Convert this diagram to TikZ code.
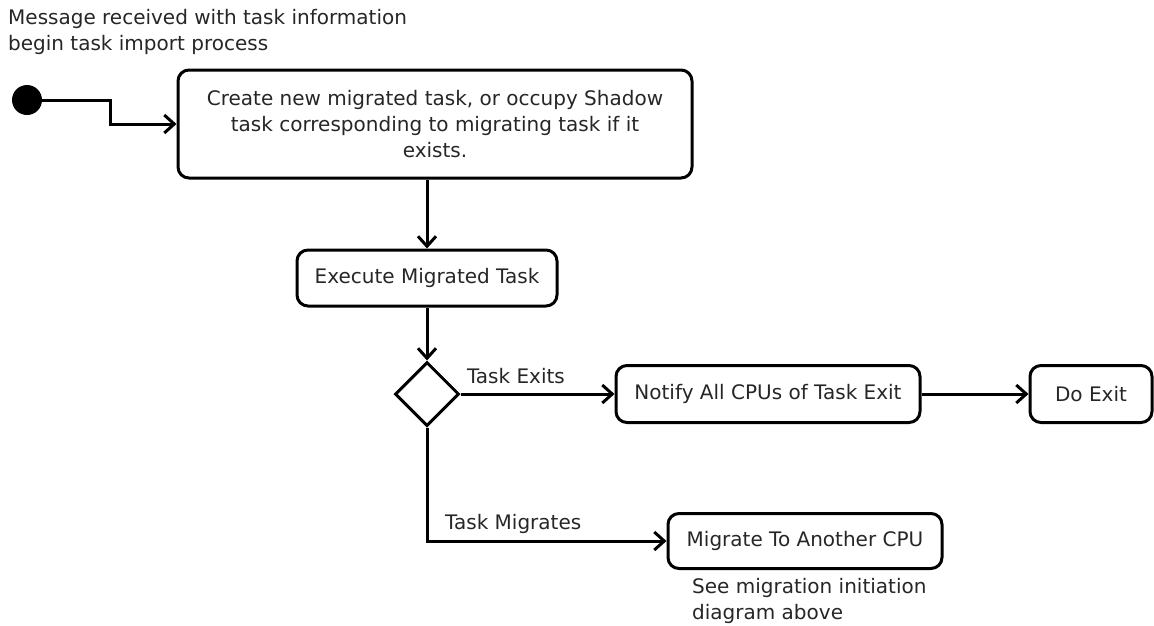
\documentclass[tikz,border=0pt]{standalone}
\usepackage{fontspec}
\setmainfont{DejaVu Sans}
\usetikzlibrary{arrows.meta,shapes.geometric}
\tikzset{
	state/.style={draw, line width=3pt, rounded corners=11pt, align=center, inner sep=0pt},
	flow/.style={line width=3pt, -{Straight Barb[length=10pt,width=18pt,line width=3pt]}},
	wire/.style={line width=3pt},
	note/.style={align=left, anchor=north west, inner sep=0pt},
}

\begin{document}
\begin{tikzpicture}[x=1pt, y=-1pt, font=\fontsize{20}{26}\selectfont, text=black!85]
		%%%%% START %%%%%
		
		\useasboundingbox (0,0) rectangle (1154,625);
		
		\node[note] (msg) at (8,9) {Message received with task information\\begin task import process};
		\node[circle, fill=black, minimum size=30pt, inner sep=0pt] (start) at (27,100) {};
		
		\node[state, minimum width=514pt, minimum height=108pt] (create) at (435,124) {Create new migrated task, or occupy Shadow\\task corresponding to migrating task if it\\exists.};
		\node[state, minimum width=260pt, minimum height=56pt] (execute) at (427,278) {Execute Migrated Task};
		\node[diamond, draw, wire, minimum width=64pt, minimum height=64pt, inner sep=0pt] (choice) at (427,394) {};
		
		\node[state, minimum width=304pt, minimum height=57pt] (notify) at (768,394) {Notify All CPUs of Task Exit};
		\node[state, minimum width=122pt, minimum height=57pt] (doexit) at (1091,394) {Do Exit};
		\node[state, minimum width=274pt, minimum height=55pt] (migrate) at (805,541) {Migrate To Another CPU};
		\node[note] (seenote) at (692,578) {See migration initiation\\diagram above};
		
		\draw[flow] (start) -- ++(83,0) |- (create.west);
		\draw[flow] (execute.north |- create.south) -- (execute.north);
		\draw[flow] (execute.south) -- (choice.north);
		
		\draw[flow] (choice.east) -- (notify.west) node[pos=0.36, above=5pt] (exits) {Task Exits};
		\draw[flow] (notify.east) -- (doexit.west);
		\draw[flow] (choice.south) |- (migrate.west) node[pos=0.68, above=3pt] (migrates) {Task Migrates};
		
		%%%%% END %%%%%
	\end{tikzpicture}
\end{document}
